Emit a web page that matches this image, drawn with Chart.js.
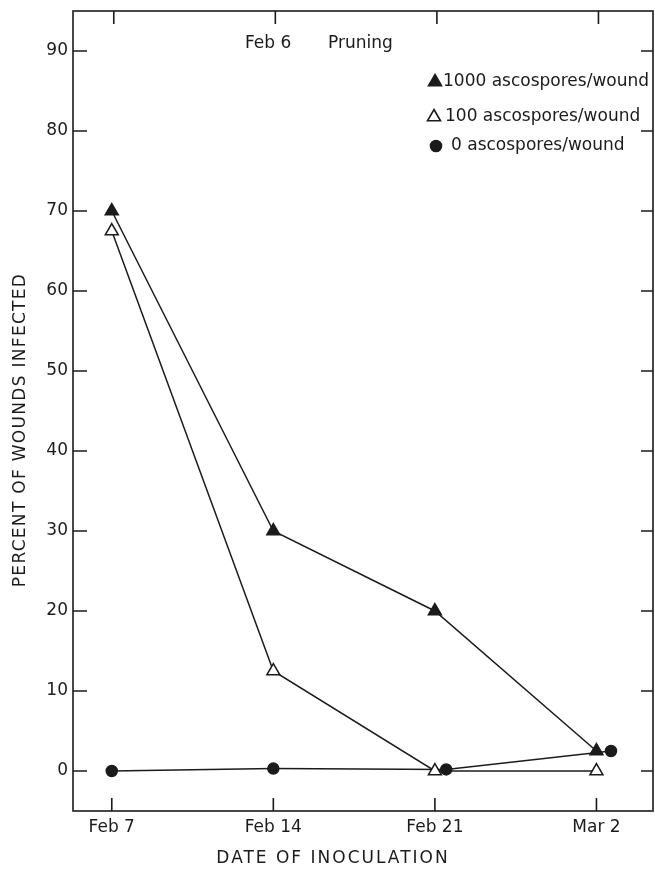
<!DOCTYPE html>
<html>
<head>
<meta charset="utf-8">
<script src="https://cdn.jsdelivr.net/npm/chart.js@4"></script>
<style>
  body { margin: 0; background: #fff; }
  #wrap { width: 655px; height: 870px; }
</style>
</head>
<body>
<div id="wrap"><canvas id="chart" width="655" height="870"></canvas></div>
<script>
// data
var dates = ['Feb 7', 'Feb 14', 'Feb 21', 'Mar 2'];
var xTri = [0, 1, 2, 3];
var spores1000 = [70, 30, 20, 2.5];
var spores100 = [67.5, 12.5, 0, 0];
var xDot = [0, 1, 2.07, 3.09];   // dots sit a bit right of the triangles where they overlap
var spores0 = [0, 0.3, 0.2, 2.5];
var yTicks = [0, 10, 20, 30, 40, 50, 60, 70, 80, 90];
var legendLabels = ['1000 ascospores/wound', '100 ascospores/wound', '0 ascospores/wound'];

var ink = '#1b1b1b';
var font = '"DejaVu Sans", sans-serif';

function pts(xs, ys) {
    return ys.map(function(v, i) { return { x: xs[i], y: v }; });
}

function noPad(s) {
    s.paddingLeft = 0; s.paddingRight = 0;
    s.paddingTop = 0; s.paddingBottom = 0;
}

var frame = {
    id: 'frame',
    afterDraw: function(chart) {
        var c = chart.ctx, a = chart.chartArea;
        var xs = chart.scales.x, ys = chart.scales.y;
        c.save();
        c.strokeStyle = ink;
        c.lineWidth = 1.6;
        c.strokeRect(a.left, a.top, a.right - a.left, a.bottom - a.top);
        c.beginPath();
        yTicks.forEach(function(t) {
            var y = ys.getPixelForValue(t);
            c.moveTo(a.left, y); c.lineTo(a.left + 14, y);
            c.moveTo(a.right - 12, y); c.lineTo(a.right, y);
        });
        xTri.forEach(function(t) {
            var x = xs.getPixelForValue(t);
            c.moveTo(x, a.bottom); c.lineTo(x, a.bottom - 13);
            c.moveTo(x + 2, a.top); c.lineTo(x + 2, a.top + 13);
        });
        c.stroke();

        c.fillStyle = ink;
        c.font = '17px ' + font;
        c.textBaseline = 'middle';
        c.textAlign = 'left';
        c.fillText('Feb 6', 245, 44);
        c.fillText('Pruning', 328, 44);

        // legend
        var rows = [82, 117, 146];
        var marks = [435, 434, 436];
        var textX = [443, 445, 451];
        chart.data.datasets.forEach(function(ds, i) {
            c.fillStyle = ds.pointBackgroundColor;
            c.strokeStyle = ink;
            Chart.helpers.drawPoint(c, {
                pointStyle: ds.pointStyle, radius: ds.pointRadius, borderWidth: 1.5
            }, marks[i], rows[i]);
            c.fillStyle = ink;
            c.fillText(legendLabels[i], textX[i], rows[i]);
        });

        // axis titles
        c.textAlign = 'center';
        if ('letterSpacing' in c) c.letterSpacing = '2px';
        c.fillText('DATE OF INOCULATION', 333, 859);
        if ('letterSpacing' in c) c.letterSpacing = '1.3px';
        c.translate(21, 430);
        c.rotate(-Math.PI / 2);
        c.fillText('PERCENT OF WOUNDS INFECTED', 0, 0);
        c.restore();
    }
};

var ctx = document.getElementById('chart').getContext('2d');
var chart = new Chart(ctx, {
    type: 'line',
    data: {
        datasets: [{
            label: legendLabels[0],
            data: pts(xTri, spores1000),
            pointStyle: 'triangle',
            pointRadius: 7.5,
            pointBackgroundColor: ink
        }, {
            label: legendLabels[1],
            data: pts(xTri, spores100),
            pointStyle: 'triangle',
            pointRadius: 7.5,
            pointBackgroundColor: '#fff'
        }, {
            label: legendLabels[2],
            data: pts(xDot, spores0),
            pointStyle: 'circle',
            pointRadius: 5.5,
            pointBackgroundColor: ink
        }].map(function(ds) {
            ds.borderColor = ink;
            ds.borderWidth = 1.5;
            ds.pointBorderColor = ink;
            ds.pointBorderWidth = 1.5;
            ds.tension = 0;
            ds.fill = false;
            ds.clip = false;
            return ds;
        })
    },
    options: {
        responsive: false,
        animation: false,
        layout: { autoPadding: false, padding: { top: 11, right: 2, left: 0, bottom: 0 } },
        plugins: { legend: { display: false }, tooltip: { enabled: false } },
        scales: {
            x: {
                type: 'linear',
                min: -0.24,
                max: 3.35,
                grid: { display: false, drawTicks: false },
                border: { display: false },
                afterBuildTicks: function(s) {
                    s.ticks = xTri.map(function(v) { return { value: v }; });
                },
                afterFit: function(s) {
                    s.height = 59;
                    noPad(s);
                },
                ticks: {
                    color: ink,
                    padding: 6,
                    maxRotation: 0,
                    font: { family: font, size: 17 },
                    callback: function(v) { return dates[v]; }
                }
            },
            y: {
                min: -5,
                max: 95,
                grid: { display: false, drawTicks: false },
                border: { display: false },
                afterBuildTicks: function(s) {
                    s.ticks = yTicks.map(function(v) { return { value: v }; });
                },
                afterFit: function(s) {
                    s.width = 73;
                    noPad(s);
                },
                ticks: {
                    color: ink,
                    padding: 5,
                    font: { family: font, size: 17 }
                }
            }
        }
    },
    plugins: [frame]
});
</script>
</body>
</html>
